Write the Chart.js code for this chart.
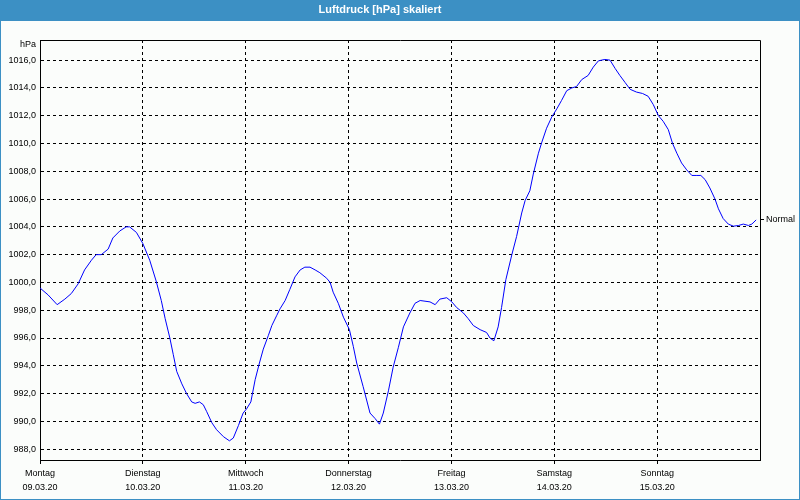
<!DOCTYPE html>
<html>
<head>
<meta charset="utf-8">
<script src="https://cdn.jsdelivr.net/npm/chart.js@4/dist/chart.umd.min.js"></script>
<style>
html,body{margin:0;padding:0;background:#fbfdfb;}
#wrap{width:800px;height:500px;}
</style>
</head>
<body>
<div id="wrap"><canvas id="c" width="800" height="500"></canvas></div>
<script>
// Hours since Monday 09.03.20 00:00
const hours = [0,1.9,4.0,5.8,7.3,8.9,10.4,12.0,13.1,14.3,15.9,17.0,18.6,20.1,20.9,22.5,24.0,25.6,27.1,28.3,29.2,30.3,31.1,31.9,33.1,34.2,35.4,36.2,37.2,38.1,38.9,40.1,41.2,42.8,44.2,45.1,46.3,47.4,48.2,49.2,50.2,51.2,52.1,53.3,54.1,55.2,56.0,57.2,58.3,59.5,60.7,61.8,63.0,64.2,65.3,66.9,67.7,68.4,69.6,70.8,72.2,73.1,73.9,75.4,77.0,78.2,79.2,80.1,81.3,82.4,83.6,84.8,86.3,87.5,88.7,91.0,92.2,93.3,94.9,96.1,97.2,98.8,99.9,101.1,102.7,104.2,105.0,105.9,106.9,107.7,108.7,110.1,111.2,112.4,113.2,114.3,115.1,116.3,117.1,118.2,119.4,120.6,121.7,122.9,124.1,125.2,126.4,127.9,129.1,130.3,131.8,133.0,134.2,135.3,136.5,137.7,139.2,140.6,141.9,143.1,144.3,145.4,146.6,147.6,148.6,149.7,150.9,152.1,153.1,154.2,155.2,156.3,157.5,158.3,159.4,160.6,161.8,163.0,164.1,165.3,166.1,167.1];
const pressure = [999.6,999.1,998.4,998.8,999.2,999.9,1000.9,1001.6,1002.0,1002.0,1002.4,1003.2,1003.7,1004.0,1004.0,1003.6,1002.8,1001.6,1000.1,998.7,997.4,996.0,994.8,993.6,992.7,992.0,991.4,991.3,991.4,991.2,990.7,989.9,989.4,988.9,988.6,988.8,989.7,990.6,990.9,991.4,993.0,994.2,995.2,996.2,996.9,997.6,998.1,998.7,999.5,1000.4,1000.9,1001.1,1001.1,1000.9,1000.7,1000.3,1000.0,999.3,998.5,997.5,996.6,995.4,994.2,992.5,990.6,990.2,989.8,990.6,992.2,993.9,995.3,996.8,997.8,998.5,998.7,998.6,998.4,998.8,998.9,998.6,998.2,997.8,997.4,996.9,996.6,996.4,996.0,995.8,996.8,998.2,1000.2,1002.0,1003.3,1005.0,1005.9,1006.6,1007.8,1009.3,1010.1,1011.1,1011.9,1012.5,1013.1,1013.8,1014.0,1014.1,1014.6,1014.9,1015.5,1015.95,1016.05,1016.0,1015.4,1014.9,1014.4,1013.9,1013.7,1013.6,1013.4,1012.8,1012.0,1011.6,1011.0,1010.0,1009.3,1008.6,1008.1,1007.7,1007.7,1007.7,1007.4,1006.8,1006.0,1005.3,1004.6,1004.2,1004.05,1004.1,1004.2,1004.1,1004.2,1004.5];
const dayNames = ["Montag","Dienstag","Mittwoch","Donnerstag","Freitag","Samstag","Sonntag"];
const dayDates = ["09.03.20","10.03.20","11.03.20","12.03.20","13.03.20","14.03.20","15.03.20"];
const yTicks = [988,990,992,994,996,998,1000,1002,1004,1006,1008,1010,1012,1014,1016];
const yMin = 987.22, yMax = 1017.45;
const normalValue = 1004.55;
const titleText = "Luftdruck [hPa] skaliert";
const unitText = "hPa";
const normalText = "Normal";

const FONT = "'Liberation Sans', Arial, sans-serif";
Chart.defaults.font.family = FONT;
Chart.defaults.color = "#000";

const points = hours.map((h, i) => ({x: h, y: pressure[i]}));

const decor = {
  id: 'decor',
  beforeDraw(chart) {
    const ctx = chart.ctx;
    ctx.save();
    ctx.fillStyle = '#fbfdfb';
    ctx.fillRect(0, 0, 800, 500);
    ctx.fillStyle = '#3c90c4';
    ctx.fillRect(0, 0, 800, 21);
    ctx.fillRect(0, 0, 1, 500);
    ctx.fillRect(799, 0, 1, 500);
    ctx.fillRect(0, 499, 800, 1);
    ctx.restore();
  },
  afterDraw(chart) {
    const ctx = chart.ctx;
    const a = chart.chartArea;
    const ys = chart.scales.y;
    ctx.save();
    ctx.strokeStyle = '#000';
    ctx.lineWidth = 1;
    ctx.beginPath();
    ctx.moveTo(Math.round(a.left) + 0.5, Math.round(a.top) + 0.5);
    ctx.lineTo(Math.round(a.right) + 0.5, Math.round(a.top) + 0.5);
    ctx.lineTo(Math.round(a.right) + 0.5, Math.round(a.bottom) + 0.5);
    ctx.stroke();
    const ny = Math.round(ys.getPixelForValue(normalValue)) + 0.5;
    ctx.beginPath();
    ctx.moveTo(Math.round(a.right), ny);
    ctx.lineTo(Math.round(a.right) + 4, ny);
    ctx.stroke();
    ctx.fillStyle = '#000';
    ctx.font = '9px ' + FONT;
    ctx.textBaseline = 'middle';
    ctx.textAlign = 'left';
    ctx.fillText(normalText, a.right + 6, ny);
    ctx.textAlign = 'right';
    ctx.fillText(unitText, a.left - 4, 45);
    ctx.restore();
  }
};

new Chart(document.getElementById('c'), {
  type: 'scatter',
  data: {
    datasets: [{
      data: points,
      showLine: true,
      borderColor: '#0000ff',
      borderWidth: 1,
      pointRadius: 0,
      tension: 0,
      fill: false
    }]
  },
  options: {
    responsive: false,
    devicePixelRatio: 1,
    animation: false,
    layout: { padding: { left: 0, right: 40, top: 0, bottom: 0 } },
    plugins: {
      legend: { display: false },
      tooltip: { enabled: false },
      title: {
        display: true,
        text: titleText,
        color: '#ffffff',
        font: { size: 11, weight: 'bold', family: FONT, lineHeight: 1.2 },
        padding: { top: 3.5, bottom: 23.3 }
      }
    },
    scales: {
      x: {
        type: 'linear',
        min: 0,
        max: 168,
        afterBuildTicks: (axis) => { axis.ticks = dayNames.map((_, i) => ({ value: i * 24 })); },
        afterFit: (scale) => { scale.height = 40; },
        ticks: {
          autoSkip: false,
          maxRotation: 0,
          padding: 2,
          color: '#000',
          font: { size: 9, family: FONT, lineHeight: 1.6 },
          callback: (v) => { const i = Math.round(v / 24); return [dayNames[i], dayDates[i]]; }
        },
        grid: {
          color: '#000',
          lineWidth: 1,
          drawTicks: true,
          tickLength: 4,
          tickBorderDash: [],
          tickColor: '#000'
        },
        border: { display: true, color: '#000', width: 1, dash: [3, 3] }
      },
      y: {
        type: 'linear',
        min: yMin,
        max: yMax,
        afterBuildTicks: (axis) => { axis.ticks = yTicks.map(v => ({ value: v })); },
        afterFit: (scale) => { scale.width = 40; },
        ticks: {
          padding: 4,
          color: '#000',
          font: { size: 9, family: FONT },
          callback: (v) => v.toFixed(1).replace('.', ',')
        },
        grid: {
          color: '#000',
          lineWidth: 1,
          drawTicks: false
        },
        border: { display: true, color: '#000', width: 1, dash: [3, 3] }
      }
    }
  },
  plugins: [decor]
});
</script>
</body>
</html>
